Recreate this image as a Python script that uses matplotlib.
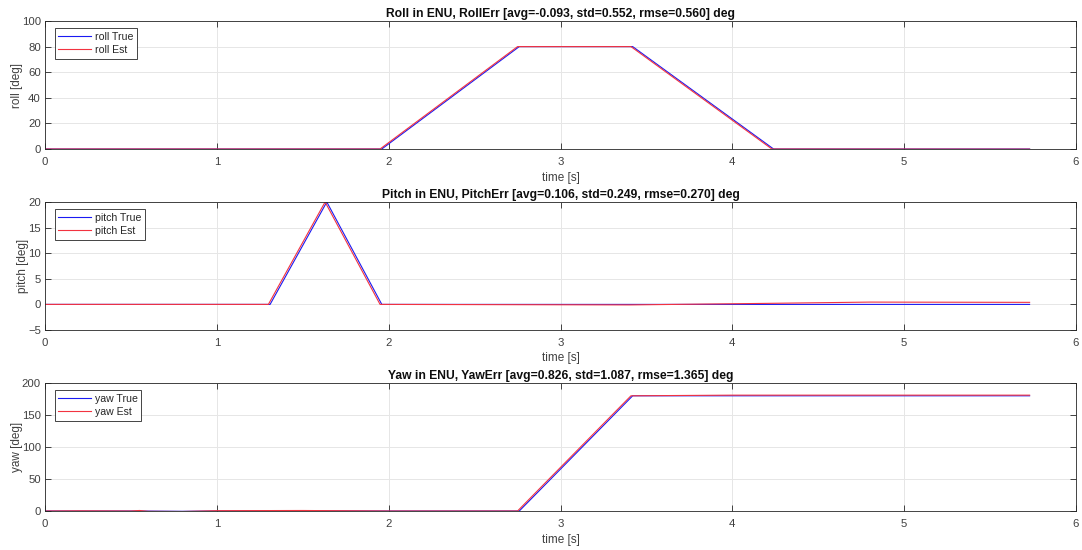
import matplotlib
matplotlib.use("Agg")
import matplotlib.pyplot as plt

plt.rcParams['font.family'] = ['Liberation Sans', 'DejaVu Sans']

# Roll
roll_t_true = [0.0, 1.96, 2.76, 3.42, 4.24, 5.73]
roll_true = [0.0, 0.0, 80.0, 80.0, 0.0, 0.0]
roll_t_est = [0.0, 1.95, 2.75, 3.41, 4.23, 5.73]
roll_est = [0.0, 0.0, 80.0, 80.0, 0.0, -0.1]

# Pitch
pitch_t_true = [0.0, 1.31, 1.64, 1.96, 3.4, 4.2, 5.73]
pitch_true = [0.0, 0.0, 20.0, 0.0, 0.0, 0.0, 0.0]
pitch_t_est = [0.0, 1.30, 1.63, 1.95, 3.4, 4.2, 4.8, 5.73]
pitch_est = [0.0, 0.0, 20.0, 0.0, -0.1, 0.2, 0.45, 0.4]

# Yaw
yaw_t_true = [0.0, 0.5, 0.52, 0.8, 1.0, 1.5, 2.0, 2.76, 3.42, 4.0, 5.73]
yaw_true = [0.0, 0.0, 0.0, -0.5, 0.0, 0.3, 0.0, 0.0, 180.0, 180.0, 180.0]
yaw_t_est = [0.0, 0.2, 0.5, 0.55, 0.6, 0.8, 1.0, 1.5, 2.0, 2.75, 3.41, 4.0, 5.73]
yaw_est = [0.0, 0.3, 0.0, 0.8, -0.5, -0.8, 0.5, 0.8, 0.0, 0.0, 180.0, 181.0, 181.0]

titles = ["Roll in ENU, RollErr [avg=-0.093, std=0.552, rmse=0.560] deg",
          "Pitch in ENU, PitchErr [avg=0.106, std=0.249, rmse=0.270] deg",
          "Yaw in ENU, YawErr [avg=0.826, std=1.087, rmse=1.365] deg"]
ylabels = ["roll [deg]", "pitch [deg]", "yaw [deg]"]
legends = [("roll True", "roll Est"), ("pitch True", "pitch Est"), ("yaw True", "yaw Est")]
ylims = [(0, 100), (-5, 20), (0, 200)]
yticks = [[0, 20, 40, 60, 80, 100], [-5, 0, 5, 10, 15, 20], [0, 50, 100, 150, 200]]
xticks = [0, 1, 2, 3, 4, 5, 6]

data = [(roll_t_true, roll_true, roll_t_est, roll_est),
        (pitch_t_true, pitch_true, pitch_t_est, pitch_est),
        (yaw_t_true, yaw_true, yaw_t_est, yaw_est)]

fig = plt.figure(figsize=(10.82, 5.5), dpi=100)
W, H = 1082, 550
boxes = [(45, 21, 1076, 149), (45, 202, 1076, 330), (45, 383, 1076, 511)]
dark = (0.15, 0.15, 0.15)
tickc = (0.25, 0.25, 0.25)

for i, (x0, y0, x1, y1) in enumerate(boxes):
    ax = fig.add_axes([x0 / W, 1 - y1 / H, (x1 - x0) / W, (y1 - y0) / H])
    tt, tv, et, ev = data[i]
    ax.plot(tt, tv, color=(0.1, 0.1, 0.95), lw=0.8, label=legends[i][0])
    ax.plot(et, ev, color=(0.95, 0.2, 0.25), lw=0.8, label=legends[i][1])
    ax.set_xlim(0, 6)
    ax.set_ylim(*ylims[i])
    ax.set_xticks(xticks)
    ax.set_yticks(yticks[i])
    ax.grid(True, color=(0.9, 0.9, 0.9), lw=0.7)
    ax.set_axisbelow(True)
    ax.tick_params(direction='in', length=4, width=0.6, labelsize=8.2, colors=dark,
                   labelcolor=tickc, top=True, right=True,
                   labeltop=False, labelright=False)
    ax.tick_params(axis='x', pad=6)
    ax.tick_params(axis='y', pad=3)
    for s in ax.spines.values():
        s.set_color(dark)
        s.set_linewidth(0.6)
    ax.set_title(titles[i], fontsize=8.7, fontweight='bold', pad=3, color=(0.05, 0.05, 0.05))
    ax.set_xlabel("time [s]", fontsize=8.5, labelpad=3, color=tickc)
    ax.set_ylabel(ylabels[i], fontsize=8.5, labelpad=-1, color=tickc)
    leg = ax.legend(loc='upper left', bbox_to_anchor=(0.0095, 0.945), fontsize=7.6,
                    frameon=True, fancybox=False, framealpha=1,
                    edgecolor=dark, handlelength=3.1, handletextpad=0.35,
                    borderpad=0.35, labelspacing=0.3, borderaxespad=0.0)
    leg.get_frame().set_linewidth(0.6)
    for t in leg.get_texts():
        t.set_color(dark)

fig.savefig("out.png", dpi=100, facecolor='white')
